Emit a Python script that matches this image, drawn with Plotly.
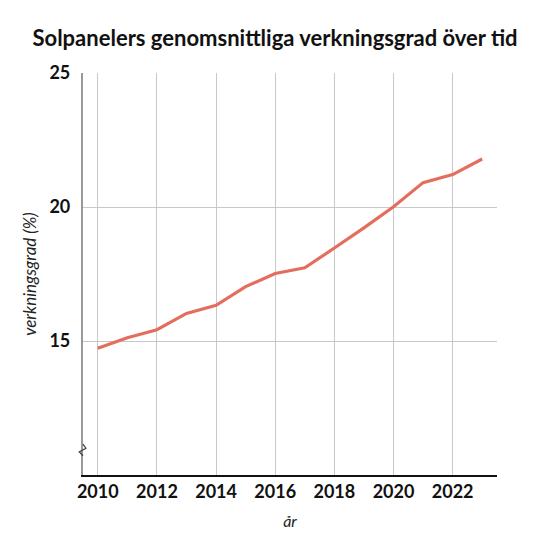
import plotly.graph_objects as go

years = [2010, 2011, 2012, 2013, 2014, 2015, 2016, 2017, 2018, 2019, 2020, 2021, 2022, 2023]
efficiency = [14.73, 15.12, 15.42, 16.03, 16.33, 17.03, 17.52, 17.73, 18.47, 19.22, 20.01, 20.91, 21.21, 21.79]
x_ticks = [2010, 2012, 2014, 2016, 2018, 2020, 2022]
y_ticks = [15, 20, 25]

title_text = "Solpanelers genomsnittliga verkningsgrad över tid"
x_title = "år"
y_title = "verkningsgrad (%)"

FONT = "Lato"
OFF = 8  # page body margin

fig = go.Figure()
fig.add_trace(go.Scatter(
    x=years, y=efficiency, mode="lines",
    line=dict(color="#E46E5E", width=3.2),
    hoverinfo="skip", showlegend=False,
))

fig.update_layout(
    width=550, height=550,
    margin=dict(l=83 - OFF, r=558 - 497, t=73 - OFF, b=558 - 475),
    paper_bgcolor="white", plot_bgcolor="white",
    title=dict(text=f"<b>{title_text}</b>", x=(275 - OFF) / 550, xanchor="center",
               y=1 - (38 - OFF) / 550, yanchor="middle",
               font=dict(family=FONT, size=22, color="#111")),
    font=dict(family=FONT, color="#111"),
)
fig.update_xaxes(
    range=[2009.5, 2023.5], tickvals=x_ticks,
    ticktext=[f"<b>{t}</b>" for t in x_ticks],
    tickfont=dict(family=FONT, size=18, color="#111"),
    showgrid=True, gridcolor="#c8c8c8", gridwidth=1,
    showline=True, linecolor="#111", linewidth=1.6,
    ticks="", zeroline=False,
    title=dict(text=f"<i>{x_title}</i>", font=dict(family=FONT, size=16, color="#222"), standoff=14),
)
fig.update_yaxes(
    range=[10, 25], tickvals=y_ticks,
    ticktext=[f"<b>{t}</b>" for t in y_ticks],
    tickfont=dict(family=FONT, size=18, color="#111"),
    showgrid=True, gridcolor="#c8c8c8", gridwidth=1,
    showline=True, linecolor="#999", linewidth=2.2,
    ticks="", ticklabelstandoff=7,
    zeroline=False,
    title=dict(text=f"<i>{y_title}</i>", font=dict(family=FONT, size=17, color="#222"), standoff=8),
)

# axis break marker on y-axis
fig.add_shape(
    type="path", xref="x domain", yref="y",
    path="M 0 11.15 L 0.007 11.0 L -0.009 10.86 L 0 10.72",
    line=dict(color="#444", width=1.3),
)

fig.write_html("out.html")
